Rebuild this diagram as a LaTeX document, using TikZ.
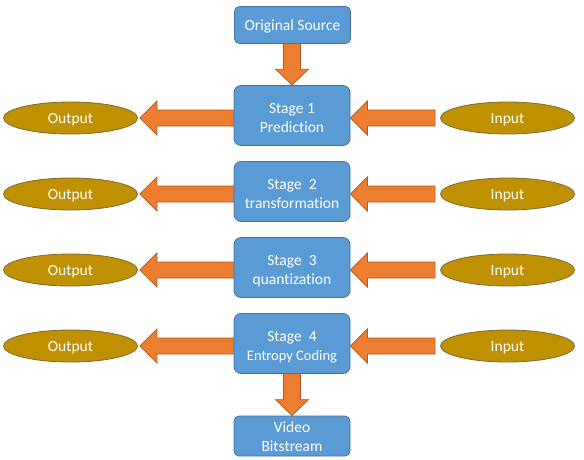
\documentclass[tikz,border=0pt]{standalone}
\usepackage{fontspec}
\setmainfont{Carlito}[Ligatures=NoCommon]
\usetikzlibrary{calc,backgrounds,shapes.geometric}
\definecolor{boxblue}{HTML}{5B9BD5}
\definecolor{boxline}{HTML}{41719C}
\definecolor{arroworange}{HTML}{ED7D31}
\definecolor{arrowline}{HTML}{AE5A21}
\definecolor{gold}{HTML}{BF9000}
\definecolor{goldline}{HTML}{7F6A3A}

% block arrow pointing left: shaft from #1, tip at #2
\newcommand{\leftblock}[2]{%
  \draw[blockarrow] let \p1=(#1), \p2=(#2) in
    (\x1,\y2+8pt) -- (\x2+17pt,\y2+8pt) -- (\x2+17pt,\y2+17pt) -- (\x2,\y2)
    -- (\x2+17pt,\y2-17pt) -- (\x2+17pt,\y2-8pt) -- (\x1,\y2-8pt) -- cycle;}
% block arrow pointing down: shaft from #1, tip at #2
\newcommand{\downblock}[2]{%
  \draw[blockarrow] let \p1=(#1), \p2=(#2) in
    (\x2-8.5pt,\y1) -- (\x2-8.5pt,\y2+16pt) -- (\x2-16.5pt,\y2+16pt) -- (\x2,\y2)
    -- (\x2+16.5pt,\y2+16pt) -- (\x2+8.5pt,\y2+16pt) -- (\x2+8.5pt,\y1) -- cycle;}

\begin{document}
\begin{tikzpicture}[x=1pt,y=-1pt,
  stagebox/.style={rectangle,rounded corners=7pt,fill=boxblue,draw=boxline,line width=0.8pt,
    minimum width=116pt,minimum height=60pt,text=white,align=center,inner sep=2pt,
    text height=37pt,text depth=3pt,font=\fontsize{15.5}{19}\selectfont},
  endbox/.style={stagebox,rounded corners=5pt,minimum height=37pt,text height=14pt,text depth=2.6pt},
  ellnode/.style={ellipse,fill=gold,draw=goldline,line width=0.8pt,minimum width=134pt,
    minimum height=32pt,inner sep=0pt,text=white,text height=14pt,text depth=4pt,
    font=\fontsize{15.5}{19}\selectfont},
  blockarrow/.style={fill=arroworange,draw=arrowline,line width=0.7pt,line join=miter}]
  \useasboundingbox (0,0) rectangle (584,459);

  % main chain
  \node[endbox] (source) at (292.5,25) {Original Source};
  \node[stagebox] (stage1) at (292,115.5) {Stage 1\\Prediction};
  \node[stagebox] (stage2) at (292,191.5) {Stage\ \ 2\\transformation};
  \node[stagebox] (stage3) at (292,267.5) {Stage\ \ 3\\quantization};
  \node[stagebox] (stage4) at (292,343.5) {Stage\ \ 4\\{\fontsize{14.5}{19}\selectfont Entropy Coding}};
  \node[endbox,minimum height=38pt,text height=33pt,text depth=3pt] (bitstream) at (292,436) {Video\\Bitstream};

  % side ellipses
  \foreach \i/\ypos in {1/118,2/194,3/270,4/346}{
    \node[ellnode] (out\i) at (70.5,\ypos) {Output};
    \node[ellnode] (in\i) at (507.5,\ypos) {Input};
  }

  % block arrows behind the boxes
  \begin{scope}[on background layer]
    \downblock{source.center}{stage1.north}
    \downblock{stage4.center}{bitstream.north}
    \foreach \i in {1,...,4}{
      \leftblock{stage\i.center}{$(out\i.east)+(2,0)$}
      \leftblock{$(in\i.west)+(-5,0)$}{stage\i.east |- in\i.west}
    }
  \end{scope}
\end{tikzpicture}
\end{document}
